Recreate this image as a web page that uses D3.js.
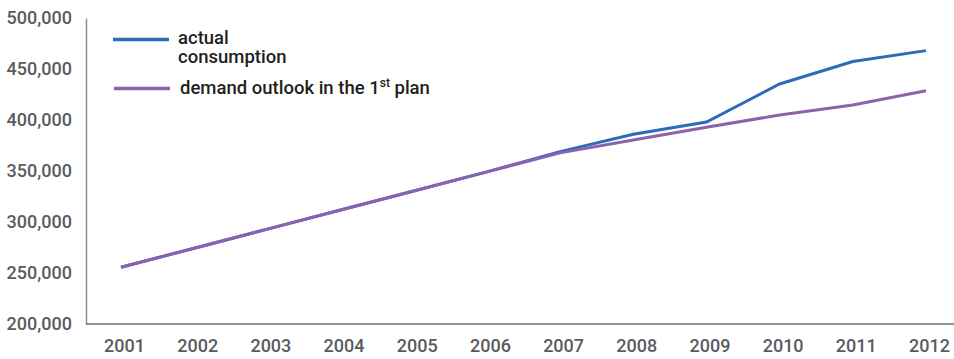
<!DOCTYPE html>
<html>
<head>
<meta charset="utf-8">
<script src="https://cdn.jsdelivr.net/npm/d3@7"></script>
<style>
  body { margin: 0; background: #fff; }
  text { font-family: Roboto, "Noto Sans", sans-serif; }
</style>
</head>
<body>
<svg id="chart" width="954" height="359"></svg>
<script>
// data
var years = [2001, 2002, 2003, 2004, 2005, 2006, 2007, 2008, 2009, 2010, 2011, 2012];
var actual = [255600, 274300, 293000, 311700, 330400, 349100, 369000, 386000, 398000, 435300, 457400, 468000];
var outlook = [255600, 274300, 293000, 311700, 330400, 349100, 367800, 380400, 392800, 404900, 414700, 428700];
var yTicks = [200000, 250000, 300000, 350000, 400000, 450000, 500000];

var svg = d3.select('#chart');

var x = d3.scalePoint().domain(years).range([121, 926]);
var y = d3.scaleLinear().domain([200000, 500000]).range([324, 18]);

// axes
var yAxis = svg.append('g').attr('transform', 'translate(86,0)')
	.call(d3.axisLeft(y).tickValues(yTicks).tickSize(0).tickPadding(14)
		.tickFormat(d3.format(',')));
yAxis.select('.domain').attr('stroke', '#8c9096').attr('stroke-width', 1.5);
yAxis.selectAll('text').attr('font-size', 18).attr('font-weight', 500).attr('fill', '#5a5b5e');

var xAxis = svg.append('g').attr('transform', 'translate(0,324)')
	.call(d3.axisBottom(x).tickSize(0).tickPadding(15).tickFormat(d3.format('d')));
xAxis.select('.domain').attr('d', 'M86,0H954').attr('stroke', '#6d7278').attr('stroke-width', 1.5);
xAxis.selectAll('text').attr('font-size', 18).attr('font-weight', 500).attr('fill', '#5a5b5e').attr('dx', 3);

// lines
var line = function(vals) {
	return d3.line()
		.x(function(d, i) { return x(years[i]); })
		.y(function(d) { return y(d); })(vals);
};

svg.append('path').attr('d', line(actual))
	.attr('fill', 'none').attr('stroke', '#2c6cb9').attr('stroke-width', 3);
svg.append('path').attr('d', line(outlook))
	.attr('fill', 'none').attr('stroke', '#8b62ae').attr('stroke-width', 3);

// legend
var legend = svg.append('g');
legend.append('line').attr('x1', 113).attr('x2', 169).attr('y1', 39.5).attr('y2', 39.5)
	.attr('stroke', '#2c6cb9').attr('stroke-width', 3.5);
legend.append('line').attr('x1', 114).attr('x2', 170).attr('y1', 88.5).attr('y2', 88.5)
	.attr('stroke', '#8b62ae').attr('stroke-width', 3.5);

var t1 = legend.append('text').attr('x', 178).attr('y', 44)
	.attr('font-size', 18.5).attr('font-weight', 500).attr('fill', '#231f20');
t1.append('tspan').attr('x', 178).text('actual');
t1.append('tspan').attr('x', 178).attr('dy', 19).text('consumption');

var t2 = legend.append('text').attr('x', 180).attr('y', 93.5)
	.attr('font-size', 18.5).attr('font-weight', 500).attr('fill', '#231f20');
t2.append('tspan').text('demand outlook in the 1');
t2.append('tspan').attr('font-size', 12).attr('dy', -7).text('st');
t2.append('tspan').attr('dy', 7).text(' plan');
</script>
</body>
</html>
